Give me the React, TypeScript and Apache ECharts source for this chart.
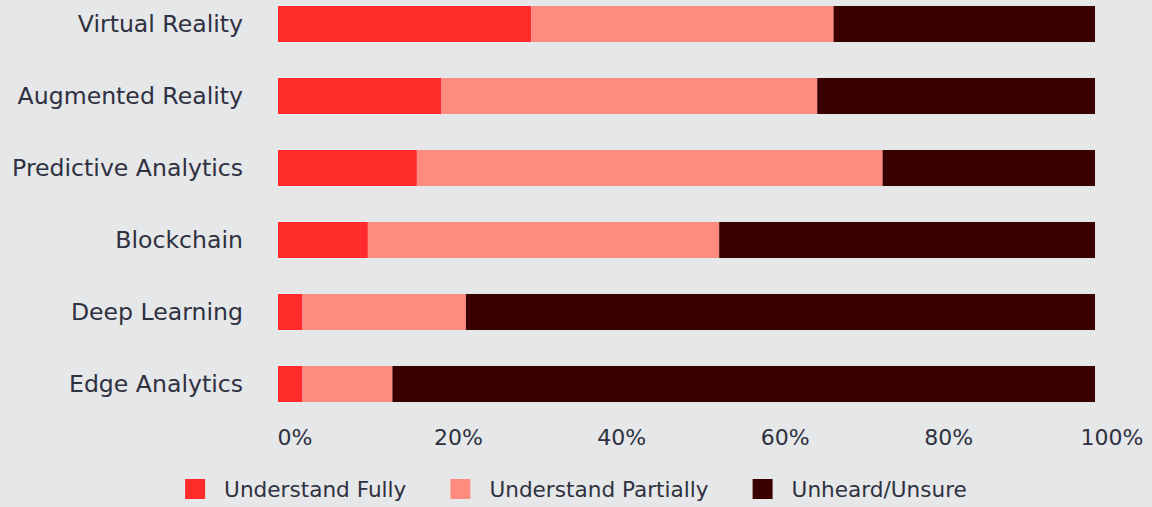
import React, { useEffect, useRef } from "react";
import * as echarts from "echarts";

const categories = [
  "Virtual Reality",
  "Augmented Reality",
  "Predictive Analytics",
  "Blockchain",
  "Deep Learning",
  "Edge Analytics",
];
const understandFully = [31, 20, 17, 11, 3, 3];
const understandPartially = [37, 46, 57, 43, 20, 11];
const unheardUnsure = [32, 34, 26, 46, 77, 86];
const seriesNames = ["Understand Fully", "Understand Partially", "Unheard/Unsure"];
const colors = ["#ff2b2b", "#ff8a80", "#3a0000"];

export default function App() {
  const ref = useRef<HTMLDivElement>(null);
  useEffect(() => {
    if (!ref.current) return;
    const chart = echarts.init(ref.current, undefined, { renderer: "svg" });
    const font = "DejaVu Sans";
    const textColor = "#2f3140";
    const data = [understandFully, understandPartially, unheardUnsure];
    chart.setOption({
      animation: false,
      backgroundColor: "#e6e7e9",
      grid: { left: 278, right: 57, top: 0, height: 432, containLabel: false },
      legend: {
        bottom: 2,
        left: "center",
        itemWidth: 20,
        itemHeight: 20,
        itemGap: 44,
        icon: "rect",
        textStyle: { fontFamily: font, fontSize: 21.6, color: textColor, padding: [0, 0, 0, 14] },
        data: seriesNames,
      },
      xAxis: {
        type: "value",
        min: 0,
        max: 100,
        interval: 20,
        axisLine: { show: false },
        axisTick: { show: false },
        splitLine: { show: false },
        axisLabel: {
          formatter: "{value}%",
          fontFamily: font,
          fontSize: 22,
          color: textColor,
          margin: 6,
          padding: [0, 0, 0, 34],
        },
      },
      yAxis: {
        type: "category",
        data: categories,
        inverse: true,
        axisLine: { show: false },
        axisTick: { show: false },
        axisLabel: { fontFamily: font, fontSize: 23.6, color: textColor, margin: 35 },
      },
      series: seriesNames.map((name, i) => ({
        name,
        type: "bar",
        stack: "total",
        barWidth: 36,
        itemStyle: { color: colors[i] },
        data: data[i],
      })),
    });
    return () => chart.dispose();
  }, []);
  return <div ref={ref} style={{ width: 1152, height: 519, position: "absolute", left: 0, top: -12 }} />;
}
